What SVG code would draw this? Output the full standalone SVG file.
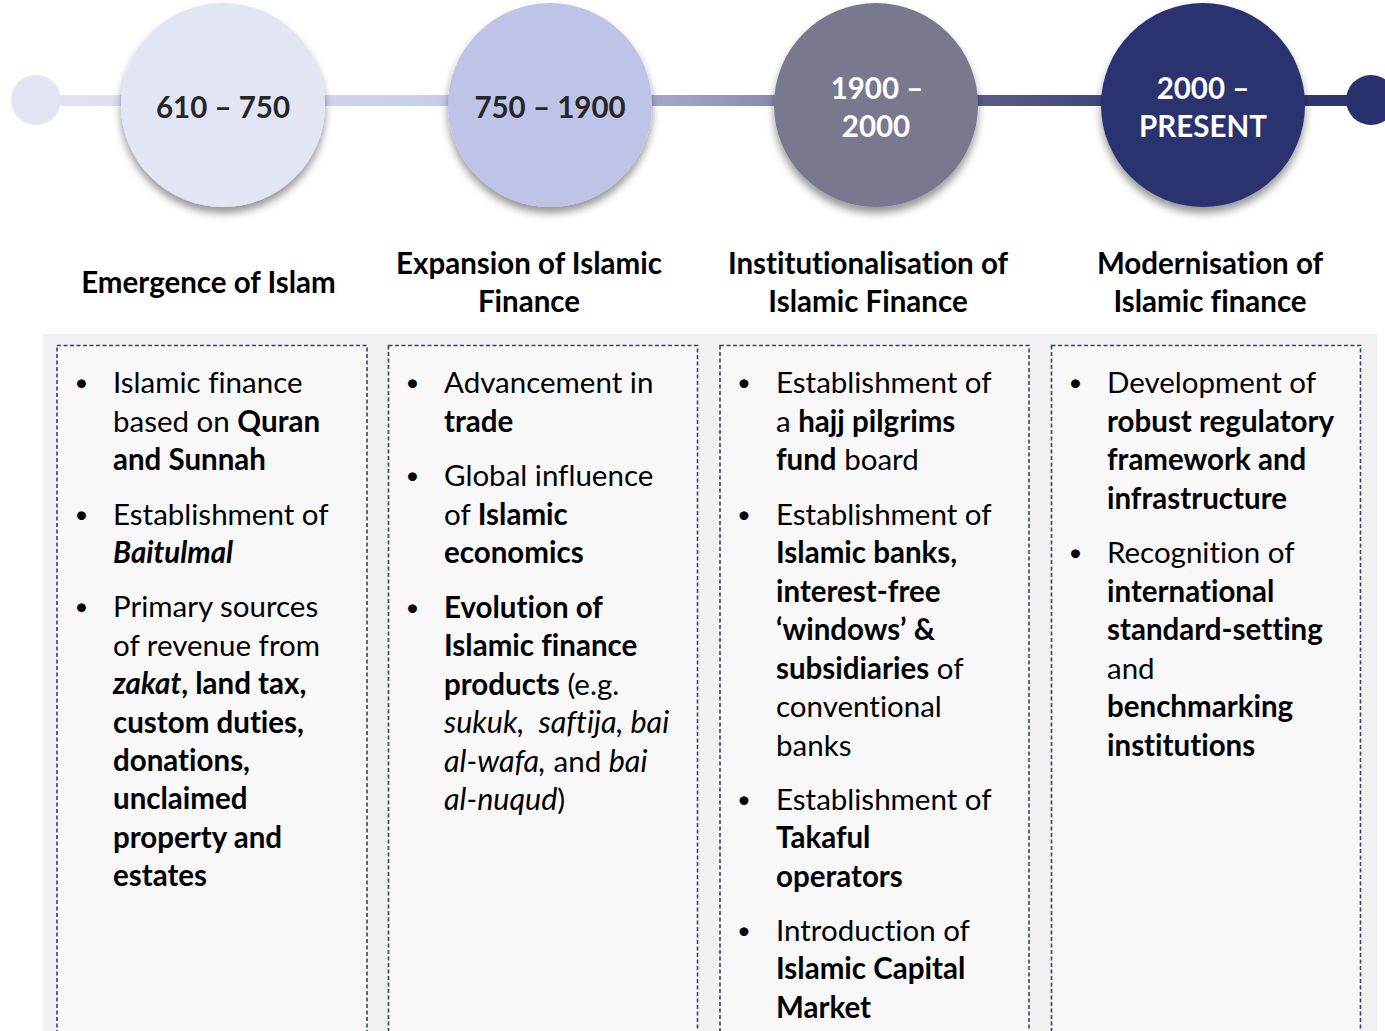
<svg xmlns="http://www.w3.org/2000/svg" width="1385" height="1031" viewBox="0 0 1385 1031">
<defs>
<style>
text{font-family:Lato,"Open Sans","Liberation Sans",sans-serif;font-size:29.5px;fill:#000;font-variant-ligatures:none}
.b{font-weight:bold}
.i{font-style:italic}
.ii{font-style:italic;font-size:30.5px}
.yr{font-weight:bold;text-anchor:middle;fill:#262626}
.yw{font-weight:bold;text-anchor:middle;fill:#fff}
.hd{font-weight:bold;text-anchor:middle}
.bul{text-anchor:middle;font-size:24px}
.box{fill:#f8f8f8;stroke:#33475f;stroke-width:1.6;stroke-dasharray:4 2.5}
</style>
<linearGradient id="lineGrad" gradientUnits="userSpaceOnUse" x1="36" y1="0" x2="1371" y2="0">
<stop offset="0" stop-color="#e2e5f4"/>
<stop offset="0.35" stop-color="#c3c8ea"/>
<stop offset="0.5" stop-color="#9a9dc2"/>
<stop offset="0.63" stop-color="#6e7090"/>
<stop offset="0.78" stop-color="#464b7e"/>
<stop offset="1" stop-color="#29326f"/>
</linearGradient>
<filter id="sh" x="-20%" y="-20%" width="140%" height="150%">
<feDropShadow dx="0" dy="6" stdDeviation="4.5" flood-color="#000" flood-opacity="0.42"/>
</filter>
</defs>

<g id="connectors">
<rect x="36" y="95" width="1335" height="11" fill="url(#lineGrad)"/>
</g>

<g id="start-dot"><circle cx="36" cy="100" r="25" fill="#e1e4f3"/></g>
<g id="end-dot"><circle cx="1371" cy="100" r="25" fill="#29326f"/></g>

<g id="node-610-750">
<circle cx="223" cy="105" r="102" fill="#e2e5f4" filter="url(#sh)"/>
<text class="yr" x="223" y="118">610 – 750</text>
</g>
<g id="node-750-1900">
<circle cx="550" cy="105" r="102" fill="#bec3e7" filter="url(#sh)"/>
<text class="yr" x="550" y="118">750 – 1900</text>
</g>
<g id="node-1900-2000">
<circle cx="876" cy="105" r="102" fill="#78798f" filter="url(#sh)"/>
<text class="yw" x="877" y="99">1900 –</text>
<text class="yw" x="876" y="137">2000</text>
</g>
<g id="node-2000-present">
<circle cx="1203" cy="105" r="102" fill="#29326f" filter="url(#sh)"/>
<text class="yw" x="1203" y="99">2000 –</text>
<text class="yw" x="1203" y="137">PRESENT</text>
</g>

<g id="headings">
<text class="hd" x="208.5" y="293">Emergence of Islam</text>
<text class="hd" x="529" y="274">Expansion of Islamic</text>
<text class="hd" x="529" y="312">Finance</text>
<text class="hd" x="868" y="274">Institutionalisation of</text>
<text class="hd" x="868" y="312">Islamic Finance</text>
<text class="hd" x="1210" y="274">Modernisation of</text>
<text class="hd" x="1210" y="312">Islamic finance</text>
</g>

<g id="panel"><rect x="43" y="334" width="1334" height="720" fill="#f1f1f1"/></g>

<g id="box-emergence">
<rect class="box" x="57" y="345.5" width="310" height="720"/>
<text class="bul" x="81.5" y="391">•</text>
<text x="113" y="393">Islamic finance</text>
<text x="113" y="431.5">based on <tspan class="b">Quran</tspan></text>
<text x="113" y="470" class="b">and Sunnah</text>
<text class="bul" x="81.5" y="522.5">•</text>
<text x="113" y="524.5">Establishment of</text>
<text x="113" y="563" class="b i">Baitulmal</text>
<text class="bul" x="81.5" y="615">•</text>
<text x="113" y="617">Primary sources</text>
<text x="113" y="655.5">of revenue from</text>
<text x="113" y="694" class="b"><tspan class="i">zakat</tspan>, land tax,</text>
<text x="113" y="732.5" class="b">custom duties,</text>
<text x="113" y="771" class="b">donations,</text>
<text x="113" y="809" class="b">unclaimed</text>
<text x="113" y="847.5" class="b">property and</text>
<text x="113" y="886" class="b">estates</text>
</g>

<g id="box-expansion">
<rect class="box" x="388.5" y="345.5" width="309" height="720"/>
<text class="bul" x="412.5" y="391">•</text>
<text x="444" y="393">Advancement in</text>
<text x="444" y="431.5" class="b">trade</text>
<text class="bul" x="412.5" y="484">•</text>
<text x="444" y="486">Global influence</text>
<text x="444" y="524.5">of <tspan class="b">Islamic</tspan></text>
<text x="444" y="563" class="b">economics</text>
<text class="bul" x="412.5" y="615.5">•</text>
<text x="444" y="617.5" class="b">Evolution of</text>
<text x="444" y="656" class="b">Islamic finance</text>
<text x="444" y="694.5"><tspan class="b">products</tspan> (e.g.</text>
<text x="444" y="733" class="ii" xml:space="preserve">sukuk,  saftija, bai</text>
<text x="444" y="771.5"><tspan class="ii">al-wafa,</tspan> and <tspan class="ii">bai</tspan></text>
<text x="444" y="810"><tspan class="ii">al-nuqud</tspan>)</text>
</g>

<g id="box-institutionalisation">
<rect class="box" x="720" y="345.5" width="309" height="720"/>
<text class="bul" x="744" y="391">•</text>
<text x="776" y="393">Establishment of</text>
<text x="776" y="431.5">a <tspan class="b">hajj pilgrims</tspan></text>
<text x="776" y="470"><tspan class="b">fund</tspan> board</text>
<text class="bul" x="744" y="522.5">•</text>
<text x="776" y="524.5">Establishment of</text>
<text x="776" y="563" class="b">Islamic banks,</text>
<text x="776" y="601.5" class="b">interest-free</text>
<text x="776" y="640" class="b">‘windows’ &amp;</text>
<text x="776" y="678.5"><tspan class="b">subsidiaries</tspan> of</text>
<text x="776" y="717">conventional</text>
<text x="776" y="755.5">banks</text>
<text class="bul" x="744" y="807.5">•</text>
<text x="776" y="809.5">Establishment of</text>
<text x="776" y="848" class="b">Takaful</text>
<text x="776" y="886.5" class="b">operators</text>
<text class="bul" x="744" y="938.5">•</text>
<text x="776" y="940.5">Introduction of</text>
<text x="776" y="979" class="b">Islamic Capital</text>
<text x="776" y="1017.5" class="b">Market</text>
</g>

<g id="box-modernisation">
<rect class="box" x="1051.5" y="345.5" width="309" height="720"/>
<text class="bul" x="1075.5" y="391">•</text>
<text x="1107" y="393">Development of</text>
<text x="1107" y="431.5" class="b">robust regulatory</text>
<text x="1107" y="470" class="b">framework and</text>
<text x="1107" y="508.5" class="b">infrastructure</text>
<text class="bul" x="1075.5" y="561">•</text>
<text x="1107" y="563">Recognition of</text>
<text x="1107" y="601.5" class="b">international</text>
<text x="1107" y="640" class="b">standard-setting</text>
<text x="1107" y="678.5">and</text>
<text x="1107" y="717" class="b">benchmarking</text>
<text x="1107" y="755.5" class="b">institutions</text>
</g>
</svg>
